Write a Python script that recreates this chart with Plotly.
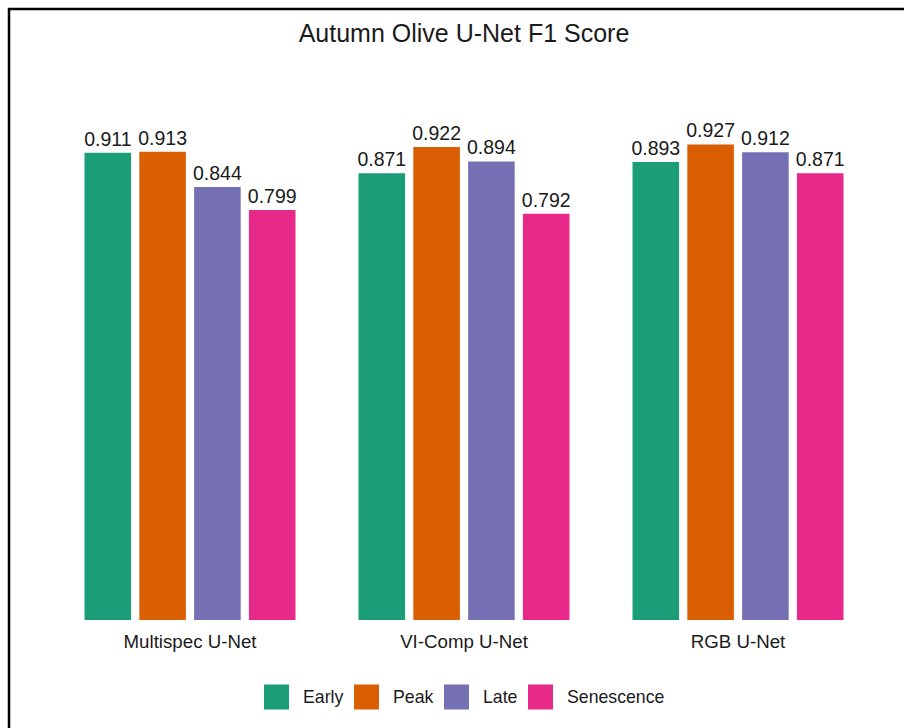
import plotly.graph_objects as go

# Data
models = ["Multispec U-Net", "VI-Comp U-Net", "RGB U-Net"]
stages = ["Early", "Peak", "Late", "Senescence"]
early = [0.911, 0.871, 0.893]
peak = [0.913, 0.922, 0.927]
late = [0.844, 0.894, 0.912]
senescence = [0.799, 0.792, 0.871]
series = [early, peak, late, senescence]

colors = ["#1B9E77", "#D95F02", "#7570B3", "#E7298A"]
FONT = "Liberation Sans, Arial, sans-serif"

W, H = 904, 728
ML, MR, MT, MB = 53, 29, 107, 108
PW, PH = W - ML - MR, H - MT - MB


def px_x(px):
    return (px - ML) / PW


def px_y(py):
    return (H - MB - py) / PH


fig = go.Figure()
for name, vals, col in zip(stages, series, colors):
    fig.add_trace(go.Bar(
        x=models, y=vals, name=name,
        marker=dict(color=col, line=dict(width=0)),
        text=[f"{v:.3f}" for v in vals],
        textposition="outside",
        textfont=dict(family=FONT, size=19.5, color="#1a1a1a"),
        constraintext="none",
        cliponaxis=False,
        showlegend=False,
    ))

shapes = []
annotations = []

# Outer frame
shapes.append(dict(type="rect", xref="paper", yref="paper",
                   x0=px_x(9), x1=px_x(W + 20), y0=px_y(H + 20), y1=px_y(9),
                   line=dict(color="black", width=2.5), fillcolor="rgba(0,0,0,0)"))

# Legend drawn below the plot
leg_left = [264, 354, 444, 528]
sq = 25
leg_cy = 697
for name, col, lx in zip(stages, colors, leg_left):
    shapes.append(dict(type="rect", xref="paper", yref="paper",
                       x0=px_x(lx), x1=px_x(lx + sq),
                       y0=px_y(leg_cy + sq / 2), y1=px_y(leg_cy - sq / 2),
                       line=dict(width=0), fillcolor=col))
    annotations.append(dict(xref="paper", yref="paper",
                            x=px_x(lx + sq + 12), y=px_y(leg_cy),
                            xanchor="left", yanchor="middle", showarrow=False,
                            text=name,
                            font=dict(family=FONT, size=17.7, color="#1a1a1a")))

fig.update_layout(
    width=W, height=H,
    margin=dict(l=ML, r=MR, t=MT, b=MB),
    paper_bgcolor="white", plot_bgcolor="white",
    barmode="group", bargap=0.2, bargroupgap=0.15,
    title=dict(text="Autumn Olive U-Net F1 Score", x=0.5, xref="paper",
               y=1 - 33 / H, yref="container", xanchor="center", yanchor="middle",
               font=dict(family=FONT, size=25, color="#1a1a1a")),
    xaxis=dict(showgrid=False, showline=False, zeroline=False, ticks="",
               ticklabelstandoff=8,
               tickfont=dict(family=FONT, size=18.7, color="#1a1a1a")),
    yaxis=dict(range=[0, 1.0], visible=False, showgrid=False, zeroline=False),
    shapes=shapes,
    annotations=annotations,
)

fig.write_html("out.html")
